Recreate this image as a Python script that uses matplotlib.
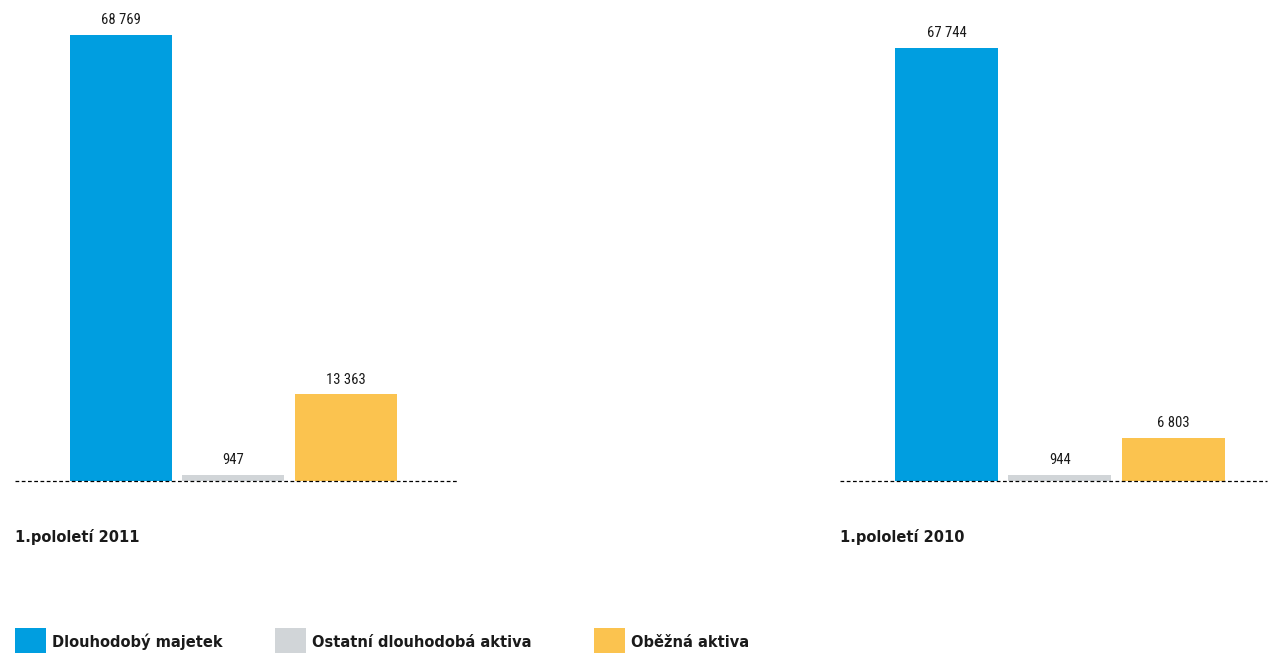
import matplotlib
matplotlib.use("Agg")
import matplotlib.pyplot as plt
from matplotlib.patches import Rectangle

categories = ["Dlouhodobý majetek", "Ostatní dlouhodobá aktiva", "Oběžná aktiva"]
periods = ["1.pololetí 2011", "1.pololetí 2010"]
values_2011 = [68769, 947, 13363]
values_2010 = [67744, 944, 6803]
colors = ["#009EE0", "#D1D5D8", "#FBC34F"]

W, H = 1269, 654
fig = plt.figure(figsize=(W / 100, H / 100), dpi=100)

cond_font = ["Roboto Condensed", "DejaVu Sans"]

def fmt(v):
    return f"{v:,}".replace(",", " ")

panels = [
    # (values, left px, right px, xlim, ylim top)
    (values_2011, 15, 457, (-0.942, 2.987), 74164),
    (values_2010, 840, 1267, (-0.938, 2.824), 75254),
]
baseline_px = 481

for (vals, x0, x1, xl, ytop), period in zip(panels, periods):
    ax = fig.add_axes([x0 / W, 1 - baseline_px / H, (x1 - x0) / W, baseline_px / H])
    xs = list(range(len(vals)))
    ax.bar(xs, vals, width=0.907, color=colors, zorder=2)
    for x, v in zip(xs, vals):
        ax.annotate(fmt(v), (x, v), xytext=(0, 5.5), textcoords="offset points",
                    ha="center", va="bottom", fontsize=10.5, color="#1a1a1a",
                    family=cond_font)
    ax.axhline(0, color="black", lw=0.9, ls=(0, (3, 2)), zorder=3, clip_on=False)
    ax.set_xlim(*xl)
    ax.set_ylim(0, ytop)
    ax.axis("off")
    fig.text(x0 / W, 1 - 542 / H, period, ha="left", va="baseline",
             fontsize=10.5, fontweight="bold", color="#1a1a1a", family="DejaVu Sans")

legend_x = [15, 275, 594]
for lx, c, lab in zip(legend_x, colors, categories):
    fig.patches.append(Rectangle((lx / W, 1 / H), 31 / W, 25 / H, transform=fig.transFigure,
                                 facecolor=c, edgecolor="none"))
    fig.text((lx + 37) / W, 1 - 647 / H, lab, ha="left", va="baseline",
             fontsize=10.5, fontweight="bold", color="#1a1a1a", family="DejaVu Sans")

fig.savefig("out.png", dpi=100)
